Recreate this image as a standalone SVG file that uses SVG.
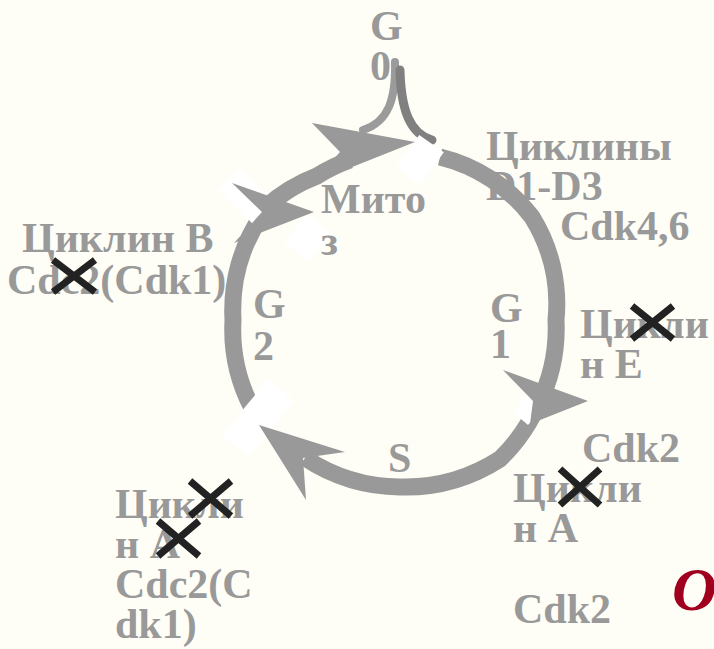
<svg xmlns="http://www.w3.org/2000/svg" width="714" height="649" viewBox="0 0 714 649">
<style>
.t{font-family:"Liberation Serif","Times New Roman",serif;font-weight:bold;font-size:42px;fill:#999999}
.arc{fill:none;stroke:#999999;stroke-width:17}
.head{fill:#999999}
.cut{fill:#ffffff}
.x{stroke:#222222;stroke-width:7;stroke-linecap:butt}
</style>
<rect x="0" y="0" width="714" height="649" fill="#fefef6"/>

<g id="labels-under">
<text class="t" x="486" y="200">D1-D3</text>
</g>

<g id="connectors">
<path class="arc" d="M 440 157 A 165 165 0 0 1 532 217 A 165 165 0 0 1 556 320 A 170 170 0 0 1 538 405"/>
<path class="arc" d="M 540 400 A 175 175 0 0 1 500 459 A 175 175 0 0 1 400 487 A 175 175 0 0 1 305 458"/>
<path class="arc" d="M 252 408 A 170 170 0 0 1 233 320 A 170 170 0 0 1 262 215"/>
<path class="arc" d="M 266 207 A 165 165 0 0 1 317 176 A 165 165 0 0 1 350 160"/>
<path d="M 395 62 C 396 100 388 122 363 130" fill="none" stroke="#9b9b9b" stroke-width="8" stroke-linecap="round"/>
<path d="M 400 70 C 401 110 410 134 432 140" fill="none" stroke="#808080" stroke-width="9" stroke-linecap="round"/>
<rect class="cut" x="-15" y="-20" width="30" height="40" transform="translate(420,160) rotate(35)"/>
<rect class="cut" x="-15" y="-24" width="30" height="48" transform="translate(246,196) rotate(-45)"/>
<rect class="cut" x="-16" y="-18" width="32" height="36" transform="translate(308,238) rotate(40)"/>
<rect class="cut" x="-17" y="-36" width="34" height="72" transform="translate(258,418) rotate(40)"/>
<rect class="cut" x="-10" y="-15" width="20" height="30" transform="translate(530,407) rotate(40)"/>
<polygon class="head" points="503,370 588,401 530,424 533,401"/>
<polygon class="head" points="259,425 345,452 303,458 306,500"/>
<polygon class="head" points="232,183 314,212 234,243 262,212"/>
<polygon class="head" points="312,123 415,142 312,183 340,152"/>
</g>

<g id="g0"><text class="t" x="370" y="40">G</text><text class="t" x="370" y="80">0</text></g>
<g id="mitosis"><text class="t" x="321" y="213">Мито</text><text class="t" x="321" y="255">з</text></g>
<g id="g2"><text class="t" x="253" y="318">G</text><text class="t" x="253" y="360">2</text></g>
<g id="g1"><text class="t" x="490" y="322">G</text><text class="t" x="490" y="358">1</text></g>
<g id="s"><text class="t" x="388" y="472">S</text></g>
<g id="cyclinD"><text class="t" x="486" y="160">Циклины</text><text class="t" x="560" y="240">Cdk4,6</text></g>
<g id="cyclinB"><text class="t" x="22" y="252">Циклин В</text><text class="t" x="7" y="294">Cdc2(Cdk1)</text></g>
<g id="cyclinE"><text class="t" x="580" y="338">Цикли</text><text class="t" x="580" y="378">н Е</text></g>
<g id="cdk2a"><text class="t" x="582" y="462">Cdk2</text></g>
<g id="cyclinA1"><text class="t" x="513" y="502">Цикли</text><text class="t" x="513" y="542">н А</text></g>
<g id="cdk2b"><text class="t" x="513" y="623">Cdk2</text></g>
<g id="cyclinA2"><text class="t" x="115" y="518">Цикли</text><text class="t" x="115" y="558">н А</text><text class="t" x="115" y="598">Cdc2(C</text><text class="t" x="115" y="638">dk1)</text></g>
<g id="title"><text x="672" y="610" style="font-family:'Liberation Serif',serif;font-style:italic;font-weight:bold;font-size:62px;fill:#a0001e">О</text></g>

<g id="crosses">
<path class="x" d="M53 260 L95 292 M53 292 L95 260"/>
<path class="x" d="M632 306 L673 339 M632 339 L673 306"/>
<path class="x" d="M560 469 L600 505 M560 505 L600 469"/>
<path class="x" d="M190 481 L231 516 M190 516 L231 481"/>
<path class="x" d="M158 521 L199 556 M158 556 L199 521"/>
</g>
</svg>
